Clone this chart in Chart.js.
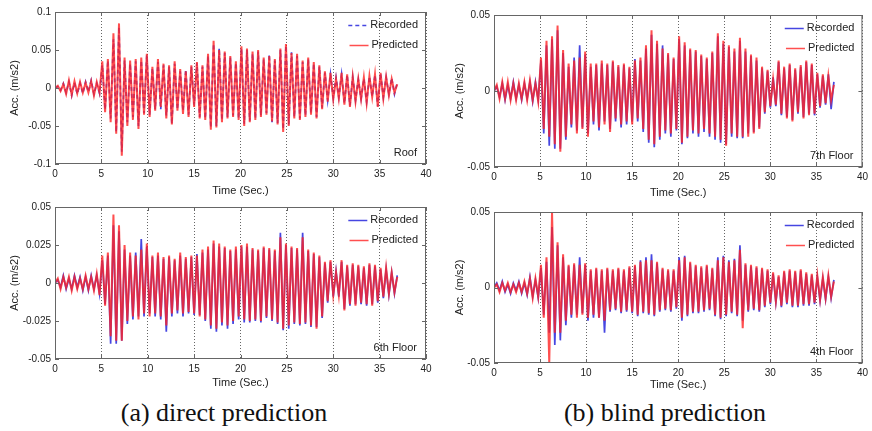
<!DOCTYPE html>
<html>
<head>
<meta charset="utf-8">
<script src="https://cdn.jsdelivr.net/npm/chart.js@4.4.1/dist/chart.umd.min.js"></script>
<style>
  body { margin:0; background:#fff; width:872px; height:431px; overflow:hidden; position:relative; }
  canvas { position:absolute; }
  .cap { position:absolute; top:398px; width:320px; text-align:center; color:#111;
         font:26px "Liberation Serif","Times New Roman",serif; }
</style>
</head>
<body>
<canvas id="roof"  width="436" height="200" style="left:0;top:0"></canvas>
<canvas id="f7"    width="436" height="200" style="left:436px;top:0"></canvas>
<canvas id="f6"    width="436" height="200" style="left:0;top:196px"></canvas>
<canvas id="f4"    width="436" height="200" style="left:436px;top:196px"></canvas>
<div class="cap" style="left:64px">(a) direct prediction</div>
<div class="cap" style="left:505px">(b) blind prediction</div>

<script>
// ---- data: peak samples every 0.3 s, in mm/s2 (1e-3 m/s2) ----
const DT = 0.3;
const xTicks = [0, 5, 10, 15, 20, 25, 30, 35, 40];

const roofRec = [
  0, 2, -3, 6, -6, 8, -10, 7, -8, 6,
  -7, 8, -5, 10, -8, 6, -7, 30, -28, 36,
  -40, 64, -58, 80, -84, 36, -45, 32, -38, 35,
  -50, 36, -33, 43, -35, 26, -28, 34, -28, 30,
  -36, 28, -47, 32, -28, 22, -30, 24, -35, 28,
  -22, 33, -38, 28, -40, 42, -52, 58, -50, 52,
  -42, 46, -38, 40, -36, 33, -40, 52, -47, 50,
  -43, 45, -40, 48, -36, 38, -33, 44, -45, 36,
  -46, 50, -54, 56, -48, 47, -38, 42, -40, 34,
  -36, 38, -33, 32, -38, 28, -26, 20, -16, 18,
  -13, 14, -12, 18, -20, 17, -23, 14, -16, 11,
  -14, 12, -18, 15, -11, 17, -24, 19, -12, 14,
  -8, 13, -8, 7
];
const roofPred = [
  0, 3, -4, 5, -8, 10, -9, 9, -7, 8,
  -6, 7, -6, 9, -10, 8, -6, 35, -32, 38,
  -45, 72, -60, 85, -89, 40, -50, 36, -42, 38,
  -54, 40, -35, 45, -38, 28, -30, 38, -25, 32,
  -40, 30, -48, 35, -30, 25, -34, 22, -38, 30,
  -25, 34, -40, 30, -42, 45, -55, 62, -52, 50,
  -45, 48, -40, 42, -38, 35, -42, 55, -50, 52,
  -45, 48, -42, 50, -38, 40, -35, 42, -44, 38,
  -48, 52, -58, 58, -50, 46, -40, 45, -42, 36,
  -38, 40, -35, 34, -40, 30, -28, 22, -18, 20,
  -15, 12, -14, 20, -22, 18, -25, 15, -18, 12,
  -15, 14, -20, 16, -12, 18, -25, 20, -14, 15,
  -10, 12, -6, 5
];

const f7Rec = [
  0, 3, -4, 5, -6, 4, -5, 6, -5, 4,
  -6, 5, -5, 6, -7, 6, -6, 20, -28, 30,
  -36, 34, -38, 40, -38, 25, -32, 16, -24, 22,
  -26, 30, -24, 24, -28, 16, -22, 17, -26, 18,
  -20, 17, -25, 19, -20, 16, -24, 17, -22, 15,
  -20, 21, -20, 20, -27, 28, -34, 37, -37, 31,
  -32, 30, -28, 24, -30, 21, -26, 34, -35, 30,
  -31, 27, -28, 26, -30, 23, -27, 21, -30, 25,
  -32, 36, -34, 31, -35, 29, -30, 26, -31, 33,
  -31, 26, -28, 23, -27, 20, -24, 15, -15, 13,
  -11, 9, -10, 19, -16, 15, -17, 17, -19, 14,
  -15, 16, -17, 19, -15, 17, -16, 11, -11, 10,
  -9, 11, -12, 6
];
const f7Pred = [
  0, 4, -5, 6, -5, 6, -6, 5, -6, 5,
  -5, 6, -6, 7, -6, 5, -7, 22, -25, 33,
  -30, 36, -35, 43, -40, 27, -30, 18, -22, 20,
  -28, 22, -25, 26, -30, 18, -20, 18, -24, 20,
  -22, 18, -27, 20, -18, 17, -22, 18, -20, 16,
  -22, 20, -18, 22, -25, 30, -32, 40, -35, 33,
  -30, 28, -26, 25, -28, 22, -25, 36, -34, 32,
  -30, 28, -26, 27, -28, 24, -25, 22, -28, 26,
  -30, 38, -32, 33, -36, 30, -28, 28, -30, 35,
  -30, 28, -30, 24, -28, 22, -25, 16, -14, 14,
  -10, 8, -9, 20, -15, 16, -18, 18, -20, 15,
  -14, 17, -18, 20, -16, 18, -15, 12, -10, 11,
  -8, 10, -6, 4
];

const f6Rec = [
  0, 2, -3, 5, -4, 3, -4, 5, -3, 4,
  -5, 4, -5, 5, -4, 5, -7, 15, -14, 18,
  -40, 38, -40, 34, -38, 22, -27, 18, -24, 20,
  -22, 29, -22, 24, -20, 17, -22, 18, -24, 16,
  -32, 17, -22, 15, -20, 18, -22, 16, -20, 17,
  -21, 19, -21, 20, -25, 22, -30, 26, -32, 24,
  -28, 23, -30, 21, -27, 22, -24, 24, -26, 24,
  -26, 22, -25, 21, -26, 23, -23, 22, -25, 21,
  -27, 33, -31, 25, -30, 23, -27, 22, -28, 33,
  -27, 21, -29, 19, -29, 17, -23, 13, -13, 14,
  -9, 8, -9, 14, -17, 11, -15, 12, -14, 11,
  -14, 10, -15, 12, -14, 11, -13, 9, -10, 9,
  -8, 7, -7, 5
];
const f6Pred = [
  0, 3, -4, 4, -3, 4, -5, 4, -4, 3,
  -4, 5, -4, 4, -5, 6, -8, 18, -15, 20,
  -35, 45, -38, 38, -38, 25, -25, 20, -22, 18,
  -24, 22, -20, 26, -22, 18, -20, 20, -22, 17,
  -28, 18, -20, 16, -18, 20, -20, 17, -19, 18,
  -20, 18, -22, 22, -24, 24, -28, 28, -30, 26,
  -26, 24, -28, 22, -25, 24, -22, 25, -24, 26,
  -25, 23, -24, 22, -25, 24, -22, 23, -24, 22,
  -26, 30, -30, 26, -28, 24, -26, 23, -27, 30,
  -26, 22, -28, 20, -30, 18, -22, 14, -12, 15,
  -8, 7, -8, 15, -18, 12, -14, 13, -15, 12,
  -13, 11, -14, 13, -15, 12, -12, 10, -9, 10,
  -7, 7, -6, 4
];

const f4Rec = [
  0, 3, -2, 4, -3, 2, -4, 3, -2, 4,
  -4, 3, -5, 7, -6, 5, -7, 13, -18, 17,
  -30, 40, -38, 28, -35, 20, -25, 14, -20, 15,
  -18, 20, -17, 15, -22, 11, -20, 12, -20, 11,
  -30, 12, -16, 11, -15, 12, -17, 11, -16, 13,
  -17, 14, -19, 18, -17, 20, -18, 22, -19, 16,
  -16, 12, -15, 11, -16, 11, -14, 20, -22, 21,
  -19, 16, -17, 14, -17, 13, -16, 14, -15, 12,
  -19, 20, -21, 21, -19, 18, -17, 19, -19, 28,
  -22, 15, -16, 14, -15, 13, -16, 12, -13, 11,
  -11, 9, -10, 7, -13, 10, -11, 11, -13, 10,
  -13, 11, -12, 9, -12, 8, -11, 7, -9, 6,
  -8, 7, -7, 5
];
const f4Pred = [
  0, 2, -3, 3, -2, 3, -3, 2, -3, 3,
  -3, 4, -4, 6, -7, 6, -6, 15, -20, 20,
  -50, 50, -30, 30, -30, 22, -22, 15, -18, 16,
  -20, 15, -18, 16, -20, 12, -18, 13, -20, 12,
  -22, 13, -15, 12, -14, 13, -16, 12, -15, 14,
  -16, 15, -18, 17, -16, 18, -17, 18, -18, 17,
  -15, 13, -14, 12, -15, 12, -13, 18, -20, 20,
  -18, 17, -16, 15, -16, 14, -15, 15, -14, 13,
  -18, 18, -20, 20, -18, 17, -16, 18, -18, 25,
  -27, 16, -15, 15, -14, 14, -15, 13, -12, 12,
  -10, 10, -9, 8, -12, 11, -10, 12, -12, 11,
  -12, 12, -11, 10, -11, 9, -10, 8, -8, 7,
  -7, 8, -6, 4
];

const BLUE = "rgb(70,70,225)";
const RED = "rgba(255,35,35,0.8)";
const FONT = "'Liberation Sans', Arial, sans-serif";

const toPoints = arr => arr.map((v, i) => ({ x: i * DT, y: v / 1000 }));

// frame, inward ticks, legend and floor name, MATLAB style
const framePlugin = {
  id: "frame",
  afterDraw(chart, args, o) {
    const { ctx, chartArea: a, scales: { x, y } } = chart;
    ctx.save();
    ctx.strokeStyle = "#666";
    ctx.lineWidth = 1;
    ctx.strokeRect(a.left + 0.5, a.top + 0.5, a.right - a.left - 1, a.bottom - a.top - 1);
    ctx.beginPath();
    x.ticks.forEach(t => {
      const px = Math.round(x.getPixelForValue(t.value)) + 0.5;
      ctx.moveTo(px, a.bottom); ctx.lineTo(px, a.bottom - 4);
      ctx.moveTo(px, a.top); ctx.lineTo(px, a.top + 4);
    });
    y.ticks.forEach(t => {
      const py = Math.round(y.getPixelForValue(t.value)) + 0.5;
      ctx.moveTo(a.left, py); ctx.lineTo(a.left + 4, py);
      ctx.moveTo(a.right, py); ctx.lineTo(a.right - 4, py);
    });
    ctx.stroke();

    ctx.font = "11px " + FONT;
    ctx.textBaseline = "middle";
    ctx.textAlign = "right";
    ctx.fillStyle = "#222";
    chart.data.datasets.forEach((ds, i) => {
      const yy = a.top + o.rows[i];
      const tx = a.right - 8;
      const w = ctx.measureText(ds.label).width;
      ctx.fillText(ds.label, tx, yy);
      ctx.save();
      ctx.strokeStyle = ds.borderColor;
      ctx.lineWidth = 1.5;
      ctx.setLineDash(ds.borderDash || []);
      ctx.beginPath();
      ctx.moveTo(tx - w - 22, yy + 0.5);
      ctx.lineTo(tx - w - 3, yy + 0.5);
      ctx.stroke();
      ctx.restore();
    });
    ctx.fillText(o.name, a.right - 9, a.bottom - 11);
    ctx.restore();
  }
};

function panel(id, p) {
  new Chart(document.getElementById(id), {
    type: "line",
    data: {
      datasets: [
        { label: "Recorded", data: toPoints(p.rec), borderColor: BLUE, borderWidth: 1.7,
          borderDash: p.dashed ? [4, 3] : [], order: 1 },
        { label: "Predicted", data: toPoints(p.pred), borderColor: RED, borderWidth: 2, order: 0 }
      ]
    },
    options: {
      responsive: false,
      animation: false,
      elements: { point: { radius: 0 }, line: { tension: 0 } },
      layout: { autoPadding: false, padding: { left: 0, right: p.padR, top: p.padT, bottom: 0 } },
      plugins: {
        legend: { display: false },
        tooltip: { enabled: false },
        frame: { rows: [13, 33], name: p.name }
      },
      scales: {
        x: {
          type: "linear", min: 0, max: 40,
          afterBuildTicks: s => { s.ticks = xTicks.map(v => ({ value: v })); },
          afterFit: s => { s.height = p.xH; },
          grid: { color: "#666", drawTicks: false },
          border: { display: false, dash: [1, 2] },
          ticks: { padding: 4, color: "#222", font: { size: 10, family: FONT } },
          title: { display: true, text: "Time (Sec.)", color: "#222",
                   font: { size: 11, family: FONT }, padding: { top: 0, bottom: p.xPad } }
        },
        y: {
          min: -p.yMax, max: p.yMax,
          ticks: { stepSize: p.yStep, padding: 4, color: "#222", font: { size: 10, family: FONT },
                   callback: v => String(Math.round(v * 1000) / 1000) },
          afterFit: s => { s.width = p.yW; },
          grid: { display: false, drawTicks: false },
          border: { display: false },
          title: { display: true, text: "Acc. (m/s2)", color: "#222",
                   font: { size: 11, family: FONT }, padding: { top: p.yPad, bottom: 0 } }
        }
      }
    },
    plugins: [framePlugin]
  });
}

panel("roof", { rec: roofRec, pred: roofPred, name: "Roof", dashed: true,
  yMax: 0.1, yStep: 0.05, yW: 55, padT: 12, padR: 10, xH: 36, xPad: 2, yPad: 8 });
panel("f7", { rec: f7Rec, pred: f7Pred, name: "7th Floor",
  yMax: 0.05, yStep: 0.05, yW: 58, padT: 15, padR: 3, xH: 33, xPad: 0, yPad: 17 });
panel("f6", { rec: f6Rec, pred: f6Pred, name: "6th Floor",
  yMax: 0.05, yStep: 0.025, yW: 55, padT: 11, padR: 10, xH: 37, xPad: 6, yPad: 8 });
panel("f4", { rec: f4Rec, pred: f4Pred, name: "4th Floor",
  yMax: 0.05, yStep: 0.05, yW: 58, padT: 16, padR: 3, xH: 33, xPad: 4, yPad: 17 });
</script>
</body>
</html>
